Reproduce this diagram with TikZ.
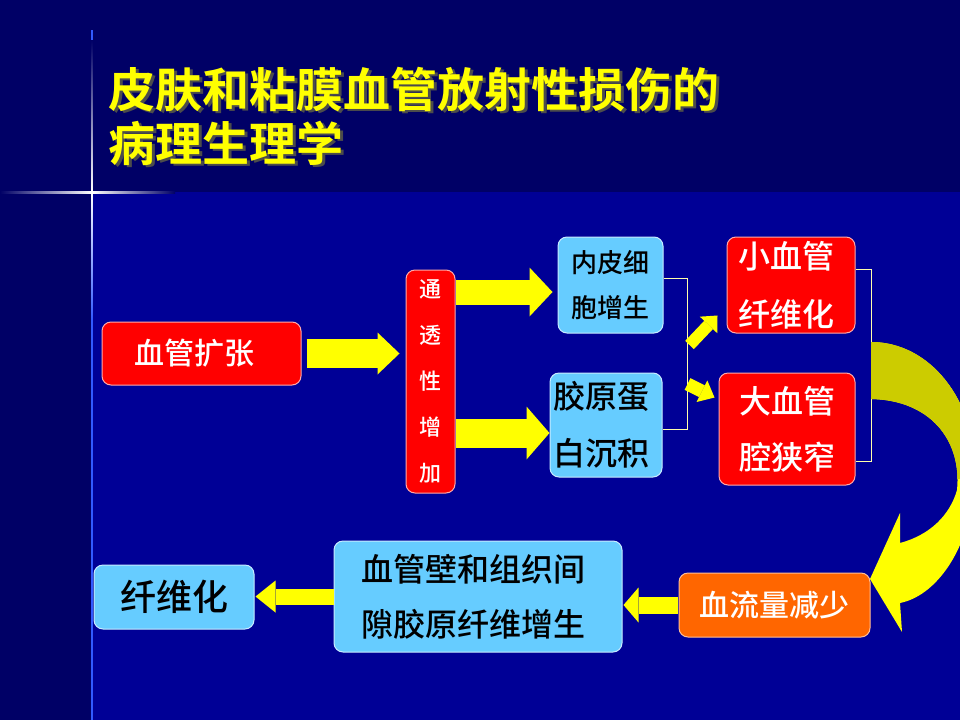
\documentclass[tikz,border=0pt]{standalone}
\usepackage{fontspec}
\newfontfamily\cjk{Noto Sans CJK SC}[UprightFont=* Medium, BoldFont=* Bold]
\usetikzlibrary{arrows.meta,calc}
\definecolor{topc}{RGB}{0,0,102}
\definecolor{botc}{RGB}{0,0,150}
\definecolor{boxred}{RGB}{255,0,0}
\definecolor{boxblue}{RGB}{102,204,255}
\definecolor{boxorange}{RGB}{255,102,0}
\definecolor{arrowyellow}{RGB}{255,255,0}
\definecolor{arrowolive}{RGB}{204,204,0}
\definecolor{bracketc}{RGB}{255,255,170}
\definecolor{glowc}{RGB}{50,90,255}
\definecolor{redline}{RGB}{255,170,170}
\definecolor{blueline}{RGB}{200,235,255}
\definecolor{orangeline}{RGB}{255,190,150}
\newcommand\myfs[2]{\fontsize{#1}{#2}\selectfont}
\begin{document}
\begin{tikzpicture}[x=1pt,y=-1pt,
  box/.style={rounded corners=9pt, line width=1pt, inner sep=0pt, align=center},
  redbox/.style={box, fill=boxred, draw=redline, text=white},
  bluebox/.style={box, fill=boxblue, draw=blueline, text=black},
  orangebox/.style={box, fill=boxorange, draw=orangeline, text=white},
  blk/.style n args={3}{draw=arrowyellow, line width=#1,
     -{Triangle[length=#3, width=#2, line width=0pt]}},
  brk/.style={draw=bracketc, line width=1pt},
  titlefont/.style={font=\cjk\bfseries\myfs{47}{54}, align=left, anchor=west}
]
\useasboundingbox (0,0) rectangle (960,720);
% background
\fill[topc] (0,0) rectangle (960,192);
\fill[botc] (92,192) rectangle (960,720);
\fill[topc] (0,192) rectangle (92,720);
% glow lines
\fill[glowc] (91.3,30) rectangle (92.7,720);
\shade[top color=topc, bottom color=white] (91.2,40) rectangle (92.8,192);
\shade[top color=white, bottom color=glowc] (91.2,192) rectangle (92.8,320);
\shade[left color=topc, right color=white] (0,191) rectangle (92,193);
\shade[left color=white, right color=topc] (92,191) rectangle (175,193);

% title
\node[titlefont, text=black!70] (tsh) at (107.5,118.5) {皮肤和粘膜血管放射性损伤的\\病理生理学};
\node[titlefont, text=arrowyellow] (title) at (105,116) {皮肤和粘膜血管放射性损伤的\\病理生理学};

% boxes
\node[redbox, minimum width=199pt, minimum height=63pt, font=\cjk\myfs{30}{36}] (kz) at (201.5,353.5) {\hspace*{-14pt}血管扩张};
\node[redbox, minimum width=49pt, minimum height=223pt, font=\cjk\myfs{22}{46}] (tt) at (430.5,381.5) {通\\透\\性\\增\\加};
\node[bluebox, minimum width=105pt, minimum height=96pt, font=\cjk\myfs{26}{45}] (nx) at (610.5,285) {内皮细\\胞增生};
\node[bluebox, minimum width=112pt, minimum height=104pt, font=\cjk\myfs{32}{57}] (jy) at (606,425) {\hspace*{-10pt}胶原蛋\\\hspace*{-10pt}白沉积};
\node[redbox, minimum width=128pt, minimum height=96pt, font=\cjk\myfs{32}{58}] (xx) at (791,285) {\hspace*{-10pt}小血管\\\hspace*{-10pt}纤维化};
\node[redbox, minimum width=136pt, minimum height=112pt, font=\cjk\myfs{32}{56}] (dx) at (787,429) {大血管\\腔狭窄};
\node[orangebox, minimum width=191pt, minimum height=64pt, font=\cjk\myfs{30}{36}] (xl) at (774.5,605) {血流量减少};
\node[bluebox, minimum width=288pt, minimum height=111pt, font=\cjk\myfs{32}{55}] (bw) at (478,596.5) {\hspace*{-10pt}血管壁和组织间\\\hspace*{-10pt}隙胶原纤维增生};
\node[bluebox, minimum width=160pt, minimum height=64pt, font=\cjk\myfs{36}{40}] (xw) at (174,597) {纤维化};

% brackets
\coordinate (b1) at ($(nx.east)+(0,-7)$);
\coordinate (b2) at ($(jy.east)+(0,4)$);
\draw[brk] (b1) -- ++(24,0) coordinate (bm) |- (b2);
\coordinate (c1) at ($(xx.east)+(0,-16)$);
\coordinate (c2) at ($(dx.east)+(0,32)$);
\draw[brk] (c1) -- ++(16,0) |- (c2);

% straight block arrows
\draw[blk={29pt}{42pt}{22pt}] ([xshift=5pt]kz.east) -- ([xshift=-6pt]kz.east -| tt.west);
\coordinate (a2) at ($(nx.west)+(-5,7)$);
\draw[blk={25pt}{49pt}{23pt}] (tt.east |- a2) -- (a2);
\coordinate (a3) at ($(jy.west)+(0,8)$);
\draw[blk={29pt}{53pt}{23pt}] (tt.east |- a3) -- (a3);
\draw[blk={17pt}{35pt}{15pt}] ([xshift=-1pt]xl.west) -- ([xshift=1pt]xl.west -| bw.east);
\draw[blk={16pt}{32pt}{20pt}] (bw.west) -- ([xshift=1pt]bw.west -| xw.east);

% small diagonal arrows
\coordinate (u0) at ($(bm)+(2,67)$);
\coordinate (u1) at ($(xx.south west)+(-9,-18)$);
\draw[blk={12pt}{24pt}{13pt}] (u0) -- (u1);
\coordinate (d0) at ($(bm)+(0,106)$);
\coordinate (d1) at ($(dx.north west)+(-4,25)$);
\draw[blk={13pt}{24pt}{14pt}] (d0) -- (d1);

% big curved arrow
\def\curvepath{(871,342) .. controls (930,342) and (975,400) .. (975,470)
  .. controls (975,540) and (940,595) .. (900,603) -- (902,632) -- (870,579)
  -- (900,513) -- (900,543) .. controls (930,535) and (950,515) .. (957,490)
  .. controls (962,440) and (930,400) .. (871,399) -- cycle}
\begin{scope}
  \clip (0,0) rectangle (960,720);
  \fill[arrowyellow] \curvepath;
\end{scope}
\begin{scope}
  \clip (860,300) rectangle (960,478);
  \fill[arrowolive] \curvepath;
\end{scope}
\end{tikzpicture}
\end{document}
